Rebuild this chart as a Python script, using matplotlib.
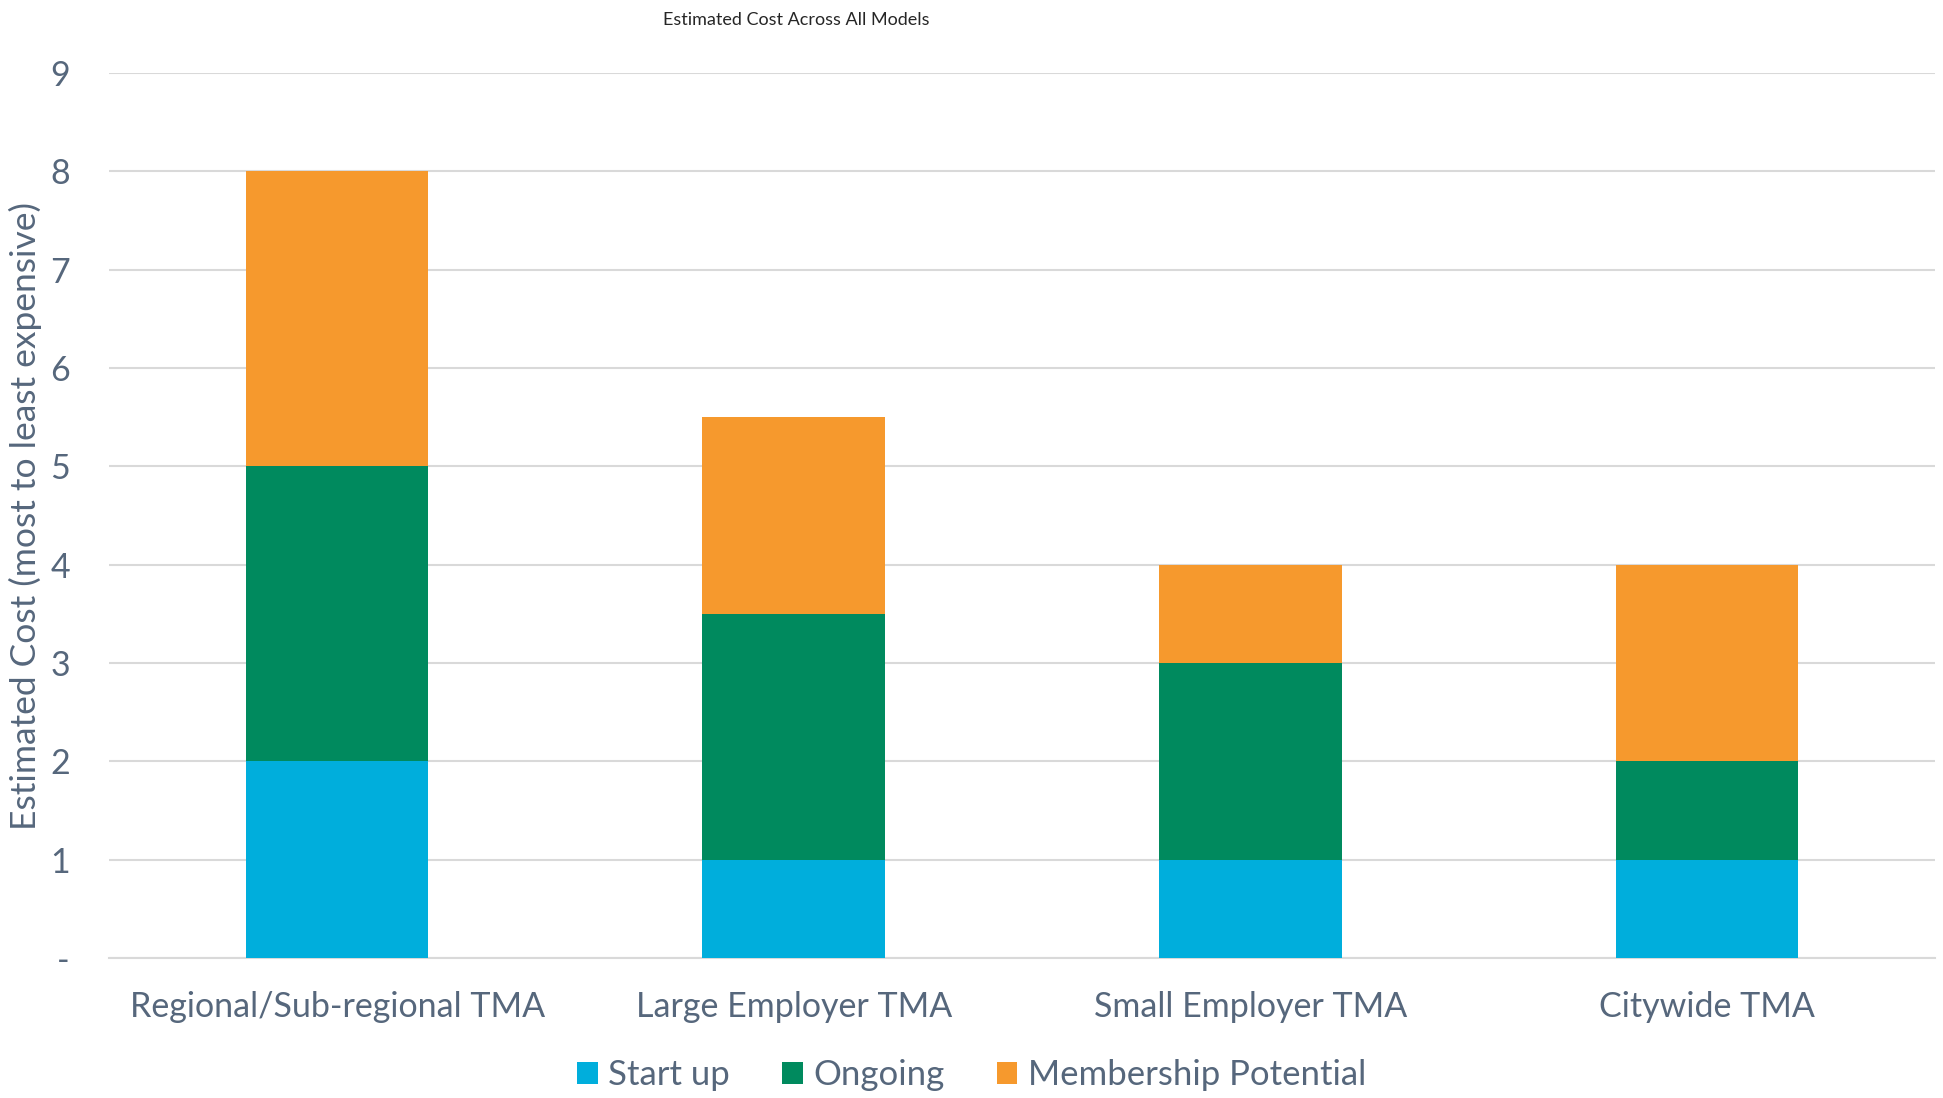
import numpy as np
import matplotlib
matplotlib.use("Agg")
import matplotlib.pyplot as plt

# Cost scores per TMA model, stacked by cost component
categories = ["Regional/Sub-regional TMA", "Large Employer TMA", "Small Employer TMA", "Citywide TMA"]
start_up = [2, 1, 1, 1]
ongoing = [3, 2.5, 2, 1]
membership = [3, 2, 1, 2]

series = [("Start up", start_up, "#00AEDC"),
          ("Ongoing", ongoing, "#008A5E"),
          ("Membership Potential", membership, "#F6992D")]

text_color = "#56677C"
plt.rcParams["font.family"] = ["Lato", "DejaVu Sans"]

fig = plt.figure(figsize=(19.43, 10.98), dpi=100)
ax = fig.add_axes([0.056, 0.1275, 0.94, 0.806])

x = np.arange(len(categories))
bottom = np.zeros(len(categories))
for name, vals, color in series:
    ax.bar(x, vals, width=0.4, bottom=bottom, color=color, label=name, zorder=3)
    bottom += np.array(vals)

ax.set_xlim(-0.5, len(categories) - 0.5)
ax.set_ylim(0, 9)
ax.set_yticks(range(10))
ax.set_yticklabels(["-"] + [str(i) for i in range(1, 10)])
ax.yaxis.grid(True, color="#D9D9D9", linewidth=1.5, zorder=0)
ax.set_xticks(x)
ax.set_xticklabels(categories)
ax.tick_params(axis="both", length=0, colors=text_color, labelsize=24.5)
ax.tick_params(axis="x", pad=24)
ax.tick_params(axis="y", pad=28)
for s in ["top", "right", "left"]:
    ax.spines[s].set_visible(False)
ax.spines["bottom"].set_color("#D9D9D9")
ax.spines["bottom"].set_linewidth(1.5)

ax.set_ylabel("Estimated Cost (most to least expensive)", fontsize=25.5, color=text_color, labelpad=6)

fig.text(0.41, 0.982, "Estimated Cost Across All Models", ha="center", va="center",
         fontsize=13, color="#262626")

leg = fig.legend(loc="center", bbox_to_anchor=(0.5, 0.021), ncol=3, frameon=False,
                 fontsize=25, handlelength=0.6, handleheight=0.6, handletextpad=0.3,
                 columnspacing=1.5)
for t in leg.get_texts():
    t.set_color(text_color)

fig.savefig("out.png", dpi=100, facecolor="white")
